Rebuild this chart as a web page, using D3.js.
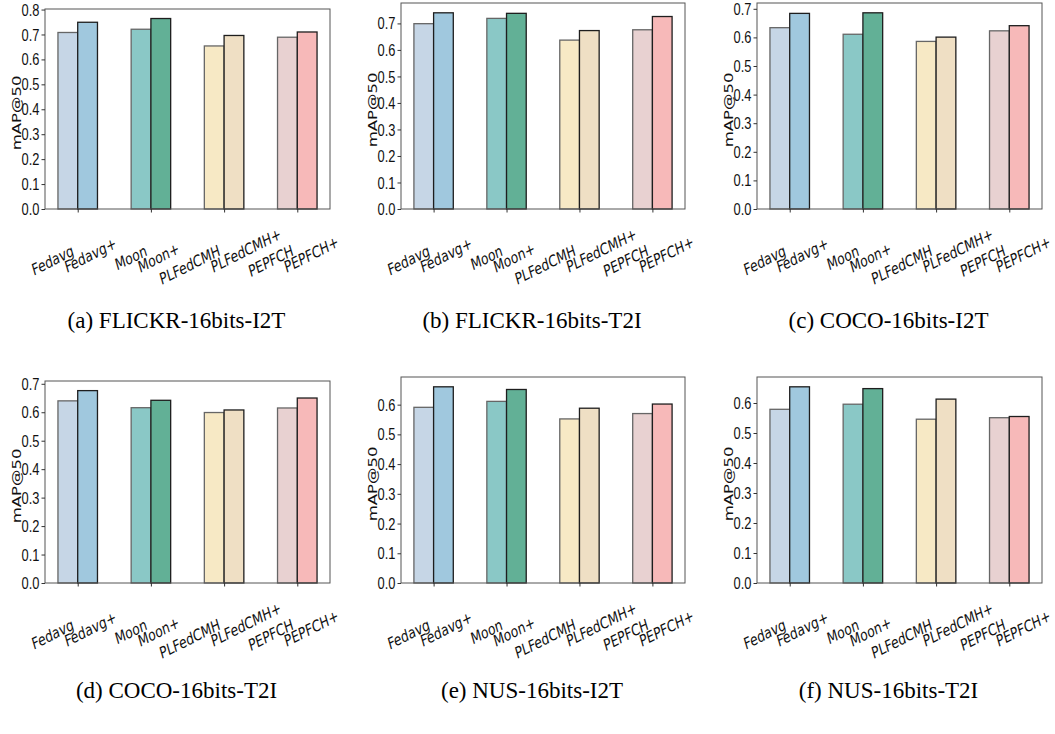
<!DOCTYPE html>
<html>
<head>
<meta charset="utf-8">
<script src="https://cdn.jsdelivr.net/npm/d3@7"></script>
<style>
  body { margin: 0; background: #fff; }
  svg { display: block; }
</style>
</head>
<body>
<div id="chart"></div>
<script>
// methods, one group of two bars each
var methods = ['Fedavg', 'Moon', 'PLFedCMH', 'PEPFCH'];
var barLabels = ['Fedavg', 'Fedavg+', 'Moon', 'Moon+', 'PLFedCMH', 'PLFedCMH+', 'PEPFCH', 'PEPFCH+'];
var barColors = ['#c6d6e6', '#a0c8de', '#8ac8c6', '#62b096', '#f7e9c5', '#efdfc4', '#e8d1d1', '#f7b9b9'];

// mAP@50 per bar, same order as barLabels
var flickrI2T = [0.708, 0.749, 0.721, 0.764, 0.654, 0.696, 0.689, 0.710];
var flickrT2I = [0.699, 0.740, 0.719, 0.738, 0.637, 0.673, 0.676, 0.726];
var cocoI2T   = [0.634, 0.684, 0.611, 0.686, 0.586, 0.601, 0.623, 0.641];
var cocoT2I   = [0.640, 0.676, 0.616, 0.642, 0.599, 0.608, 0.615, 0.650];
var nusI2T    = [0.591, 0.660, 0.611, 0.651, 0.552, 0.588, 0.570, 0.602];
var nusT2I    = [0.579, 0.654, 0.596, 0.648, 0.546, 0.613, 0.551, 0.555];

var captions = ['(a) FLICKR-16bits-I2T', '(b) FLICKR-16bits-T2I', '(c) COCO-16bits-I2T',
                '(d) COCO-16bits-T2I', '(e) NUS-16bits-I2T', '(f) NUS-16bits-T2I'];
var yLabel = 'mAP@50';

var width = 1055, height = 734;
var squash = 0.78;      // the picture is squeezed sideways
var barW = 0.27;

// axes boxes: left, top, right, bottom
var panels = [
    {data: flickrI2T, box: [45, 9, 330, 209]},
    {data: flickrT2I, box: [401, 3, 685, 209]},
    {data: cocoI2T,   box: [757, 3, 1042, 209]},
    {data: cocoT2I,   box: [45, 381, 330, 583]},
    {data: nusI2T,    box: [401, 377, 685, 583]},
    {data: nusT2I,    box: [757, 377, 1042, 583]}
];

var svg = d3.select('#chart').append('svg')
    .attr('width', width).attr('height', height)
    .style('font-family', '"DejaVu Sans", sans-serif');

function drawPanel(p, k) {
    var l = p.box[0], t = p.box[1], r = p.box[2], b = p.box[3];
    var g = svg.append('g');
    var ymax = d3.max(p.data) * 1.05;
    var m = 0.05 * (methods.length - 1 + 2 * barW);

    var x = d3.scaleLinear().domain([-barW - m, methods.length - 1 + barW + m]).range([l, r]);
    var y = d3.scaleLinear().domain([0, ymax]).range([b, t]);

    // bars
    g.selectAll('rect.bar')
        .data(p.data)
        .enter()
        .append('rect')
        .attr('class', 'bar')
        .attr('x', function(d, i) {
            var grp = Math.floor(i / 2);
            return i % 2 === 0 ? x(grp - barW) : x(grp);
        })
        .attr('width', x(barW) - x(0))
        .attr('y', function(d) { return y(d); })
        .attr('height', function(d) { return y(0) - y(d); })
        .attr('fill', function(d, i) { return barColors[i]; })
        .attr('stroke', function(d, i) { return i % 2 === 0 ? '#666' : '#1e1e1e'; })
        .attr('stroke-width', 1.3);

    // frame
    g.append('rect')
        .attr('x', l).attr('y', t)
        .attr('width', r - l).attr('height', b - t)
        .attr('fill', 'none').attr('stroke', '#555').attr('stroke-width', 1);

    // y axis
    var yAxis = g.append('g')
        .attr('transform', 'translate(' + l + ',0)')
        .call(d3.axisLeft(y)
            .tickValues(d3.range(0, ymax + 1e-9, 0.1))
            .tickSize(3.5)
            .tickFormat(d3.format('.1f')));
    yAxis.select('.domain').remove();
    yAxis.selectAll('line').attr('stroke', '#333');
    yAxis.selectAll('text')
        .attr('x', 0).attr('dy', null)
        .attr('dominant-baseline', 'central')
        .attr('transform', 'translate(-5.5,0) scale(' + squash + ',1)')
        .attr('fill', '#111')
        .style('font-size', '16.5px');

    // x axis ticks at group centres
    var xAxis = g.append('g')
        .attr('transform', 'translate(0,' + b + ')')
        .call(d3.axisBottom(x)
            .tickValues(d3.range(methods.length))
            .tickSize(3.5)
            .tickFormat(''));
    xAxis.select('.domain').remove();
    xAxis.selectAll('line').attr('stroke', '#333');

    // rotated labels: base name ends at the tick, "+" name starts there
    g.selectAll('text.xlab')
        .data(barLabels)
        .enter()
        .append('text')
        .attr('class', 'xlab')
        .attr('text-anchor', function(d, i) { return i % 2 === 0 ? 'end' : 'start'; })
        .attr('transform', function(d, i) {
            var grp = Math.floor(i / 2);
            var px = i % 2 === 0 ? x(grp) - 3 : x(grp) - 11;
            var py = i % 2 === 0 ? b + 46 : b + 64;
            return 'translate(' + px + ',' + py + ') scale(' + (squash - 0.02) + ',1) rotate(-21)';
        })
        .attr('fill', '#111')
        .style('font-size', '16px')
        .text(function(d) { return d; });

    // y label
    g.append('text')
        .attr('transform', 'translate(' + (l - 29) + ',' + ((t + b) / 2 + 4) + ') scale(' + squash + ',1) rotate(-90)')
        .attr('text-anchor', 'middle')
        .attr('dominant-baseline', 'central')
        .attr('fill', '#111')
        .style('font-size', '16.5px')
        .text(yLabel);

    // caption
    svg.append('text')
        .attr('x', (l + r) / 2 - 11)
        .attr('y', k < 3 ? 328 : 698)
        .attr('text-anchor', 'middle')
        .style('font-family', '"Liberation Serif", "Times New Roman", serif')
        .style('font-size', '23px')
        .attr('fill', '#000')
        .text(captions[k]);
}

panels.forEach(drawPanel);
</script>
</body>
</html>
